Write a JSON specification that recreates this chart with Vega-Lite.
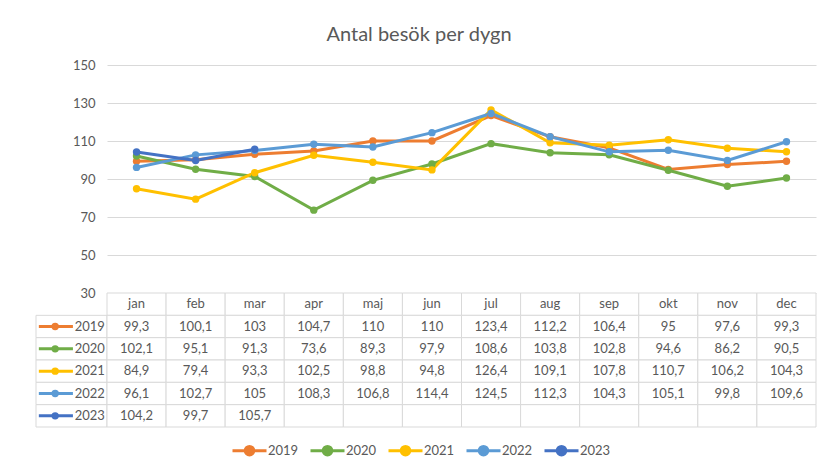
{
  "$schema": "https://vega.github.io/schema/vega-lite/v6.json",
  "padding": {"left": 35, "top": 25, "right": 4, "bottom": 0},
  "background": "white",
  "title": {"text": "Antal besök per dygn", "fontSize": 20, "font": "Lato", "fontWeight": "normal", "color": "#595959", "anchor": "middle", "offset": 14, "dx": -7},
  "datasets": {
    "besok": [
      {"year": "2019", "month": "jan", "value": 99.3}, {"year": "2019", "month": "feb", "value": 100.1}, {"year": "2019", "month": "mar", "value": 103}, {"year": "2019", "month": "apr", "value": 104.7}, {"year": "2019", "month": "maj", "value": 110}, {"year": "2019", "month": "jun", "value": 110}, {"year": "2019", "month": "jul", "value": 123.4}, {"year": "2019", "month": "aug", "value": 112.2}, {"year": "2019", "month": "sep", "value": 106.4}, {"year": "2019", "month": "okt", "value": 95}, {"year": "2019", "month": "nov", "value": 97.6}, {"year": "2019", "month": "dec", "value": 99.3},
      {"year": "2020", "month": "jan", "value": 102.1}, {"year": "2020", "month": "feb", "value": 95.1}, {"year": "2020", "month": "mar", "value": 91.3}, {"year": "2020", "month": "apr", "value": 73.6}, {"year": "2020", "month": "maj", "value": 89.3}, {"year": "2020", "month": "jun", "value": 97.9}, {"year": "2020", "month": "jul", "value": 108.6}, {"year": "2020", "month": "aug", "value": 103.8}, {"year": "2020", "month": "sep", "value": 102.8}, {"year": "2020", "month": "okt", "value": 94.6}, {"year": "2020", "month": "nov", "value": 86.2}, {"year": "2020", "month": "dec", "value": 90.5},
      {"year": "2021", "month": "jan", "value": 84.9}, {"year": "2021", "month": "feb", "value": 79.4}, {"year": "2021", "month": "mar", "value": 93.3}, {"year": "2021", "month": "apr", "value": 102.5}, {"year": "2021", "month": "maj", "value": 98.8}, {"year": "2021", "month": "jun", "value": 94.8}, {"year": "2021", "month": "jul", "value": 126.4}, {"year": "2021", "month": "aug", "value": 109.1}, {"year": "2021", "month": "sep", "value": 107.8}, {"year": "2021", "month": "okt", "value": 110.7}, {"year": "2021", "month": "nov", "value": 106.2}, {"year": "2021", "month": "dec", "value": 104.3},
      {"year": "2022", "month": "jan", "value": 96.1}, {"year": "2022", "month": "feb", "value": 102.7}, {"year": "2022", "month": "mar", "value": 105}, {"year": "2022", "month": "apr", "value": 108.3}, {"year": "2022", "month": "maj", "value": 106.8}, {"year": "2022", "month": "jun", "value": 114.4}, {"year": "2022", "month": "jul", "value": 124.5}, {"year": "2022", "month": "aug", "value": 112.3}, {"year": "2022", "month": "sep", "value": 104.3}, {"year": "2022", "month": "okt", "value": 105.1}, {"year": "2022", "month": "nov", "value": 99.8}, {"year": "2022", "month": "dec", "value": 109.6},
      {"year": "2023", "month": "jan", "value": 104.2}, {"year": "2023", "month": "feb", "value": 99.7}, {"year": "2023", "month": "mar", "value": 105.7}, {"year": "2023", "month": "apr", "value": null}, {"year": "2023", "month": "maj", "value": null}, {"year": "2023", "month": "jun", "value": null}, {"year": "2023", "month": "jul", "value": null}, {"year": "2023", "month": "aug", "value": null}, {"year": "2023", "month": "sep", "value": null}, {"year": "2023", "month": "okt", "value": null}, {"year": "2023", "month": "nov", "value": null}, {"year": "2023", "month": "dec", "value": null}
    ],
    "months": [
      {"month": "jan"}, {"month": "feb"}, {"month": "mar"}, {"month": "apr"}, {"month": "maj"}, {"month": "jun"}, {"month": "jul"}, {"month": "aug"}, {"month": "sep"}, {"month": "okt"}, {"month": "nov"}, {"month": "dec"}
    ],
    "years": [
      {"year": "2019"}, {"year": "2020"}, {"year": "2021"}, {"year": "2022"}, {"year": "2023"}
    ]
  },
  "columns": 2,
  "spacing": 0,
  "bounds": "flush",
  "align": "each",
  "concat": [
    {
      "width": 71,
      "height": 228,
      "data": {"values": [{}]},
      "mark": {"type": "text", "text": ""},
      "encoding": {}
    },
    {
      "width": 709,
      "height": 228,
      "data": {"name": "besok"},
      "mark": {"type": "line", "strokeWidth": 3, "point": {"filled": true, "size": 55}},
      "encoding": {
        "x": {"field": "month", "type": "nominal", "sort": null, "scale": {"domain": ["jan", "feb", "mar", "apr", "maj", "jun", "jul", "aug", "sep", "okt", "nov", "dec"], "paddingInner": 0, "paddingOuter": 0}, "axis": null},
        "y": {"field": "value", "type": "quantitative", "scale": {"domain": [30, 150], "nice": false, "zero": false}, "axis": {"values": [30, 50, 70, 90, 110, 130, 150], "title": null, "domain": false, "ticks": false, "labelPadding": 12, "gridColor": "#d9d9d9", "labelColor": "#595959", "labelFontSize": 13, "labelFont": "Lato"}},
        "color": {
          "field": "year", "type": "nominal",
          "scale": {"domain": ["2019", "2020", "2021", "2022", "2023"], "range": ["#ED7D31", "#70AD47", "#FFC000", "#5B9BD5", "#4472C4"]},
          "legend": {
            "orient": "none", "legendX": 195, "legendY": 367, "title": null, "direction": "horizontal",
            "symbolType": "M-1,0H1M-0.25,0A0.25,0.25,0,1,0,0.25,0A0.25,0.25,0,1,0,-0.25,0Z",
            "symbolSize": 1156, "symbolStrokeWidth": 3,
            "labelFontSize": 13, "labelColor": "#595959", "labelFont": "Lato",
            "columnPadding": 5, "labelOffset": 0,
            "encode": {"symbols": {"update": {"fill": {"scale": "color", "field": "value"}}}}
          }
        }
      }
    },
    {
      "width": 71,
      "height": 134,
      "data": {"name": "years"},
      "encoding": {
        "y": {"field": "year", "type": "nominal", "scale": {"domain": ["header", "2019", "2020", "2021", "2022", "2023"], "paddingInner": 0, "paddingOuter": 0}, "axis": null}
      },
      "layer": [
        {
          "mark": {"type": "rect", "fill": "white", "stroke": "#d9d9d9", "strokeWidth": 1},
          "encoding": {
            "x": {"datum": 0, "type": "quantitative", "scale": {"domain": [0, 1]}, "axis": null},
            "x2": {"datum": 1}
          }
        },
        {
          "mark": {"type": "rule", "strokeWidth": 3},
          "encoding": {
            "x": {"datum": 0.04, "type": "quantitative"},
            "x2": {"datum": 0.52},
            "stroke": {"field": "year", "type": "nominal", "scale": {"domain": ["2019", "2020", "2021", "2022", "2023"], "range": ["#ED7D31", "#70AD47", "#FFC000", "#5B9BD5", "#4472C4"]}, "legend": null}
          }
        },
        {
          "mark": {"type": "point", "filled": true, "size": 55, "opacity": 1},
          "encoding": {
            "x": {"datum": 0.27, "type": "quantitative"},
            "fill": {"field": "year", "type": "nominal", "scale": {"domain": ["2019", "2020", "2021", "2022", "2023"], "range": ["#ED7D31", "#70AD47", "#FFC000", "#5B9BD5", "#4472C4"]}, "legend": null}
          }
        },
        {
          "mark": {"type": "text", "align": "right", "fontSize": 13, "font": "Lato", "color": "#595959"},
          "encoding": {
            "x": {"datum": 0.97, "type": "quantitative"},
            "text": {"field": "year"}
          }
        }
      ]
    },
    {
      "width": 709,
      "height": 134,
      "encoding": {
        "x": {"field": "month", "type": "nominal", "sort": null, "scale": {"domain": ["jan", "feb", "mar", "apr", "maj", "jun", "jul", "aug", "sep", "okt", "nov", "dec"], "paddingInner": 0, "paddingOuter": 0}, "axis": null}
      },
      "layer": [
        {
          "data": {"name": "months"},
          "mark": {"type": "rect", "fill": "white", "stroke": "#d9d9d9", "strokeWidth": 1},
          "encoding": {
            "y": {"datum": "header", "type": "nominal", "scale": {"domain": ["header", "2019", "2020", "2021", "2022", "2023"], "paddingInner": 0, "paddingOuter": 0}, "axis": null}
          }
        },
        {
          "data": {"name": "months"},
          "mark": {"type": "text", "fontSize": 13, "font": "Lato", "color": "#595959"},
          "encoding": {
            "y": {"datum": "header", "type": "nominal"},
            "text": {"field": "month"}
          }
        },
        {
          "data": {"name": "besok"},
          "mark": {"type": "rect", "fill": "white", "stroke": "#d9d9d9", "strokeWidth": 1},
          "encoding": {
            "y": {"field": "year", "type": "nominal"}
          }
        },
        {
          "data": {"name": "besok"},
          "transform": [{"filter": "datum.value != null"}],
          "mark": {"type": "text", "fontSize": 13, "font": "Lato", "color": "#595959"},
          "encoding": {
            "y": {"field": "year", "type": "nominal"},
            "text": {"field": "value", "type": "quantitative", "format": "~g"}
          }
        }
      ]
    }
  ],
  "config": {
    "view": {"stroke": null},
    "locale": {"number": {"decimal": ",", "thousands": "\u00a0", "grouping": [3], "currency": ["", " kr"]}}
  }
}
